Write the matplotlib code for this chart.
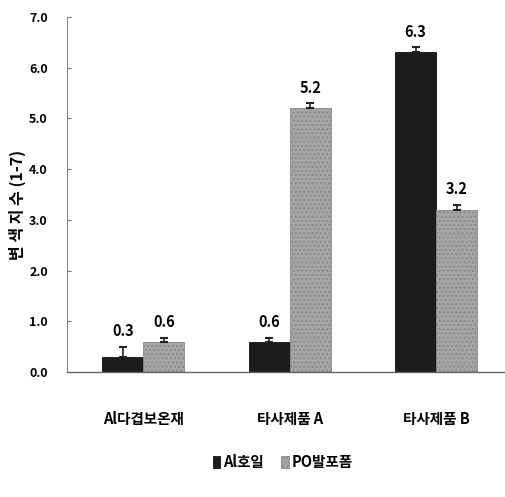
import matplotlib
matplotlib.use("Agg")
import matplotlib.pyplot as plt
import numpy as np

plt.rcParams["font.family"] = ["Noto Sans CJK KR", "DejaVu Sans"]

categories = ["Al다겹보온재", "타사제품 A", "타사제품 B"]
series_names = ["Al호일", "PO발포폼"]
foil_values = [0.3, 0.6, 6.3]
foam_values = [0.6, 5.2, 3.2]
foil_err = [0.2, 0.08, 0.1]
foam_err = [0.08, 0.1, 0.1]
yticks = [0.0, 1.0, 2.0, 3.0, 4.0, 5.0, 6.0, 7.0]

fig = plt.figure(figsize=(5.05, 4.97), dpi=100)
ax = fig.add_axes([0.133, 0.2515, 0.867, 0.7145])

x = np.arange(len(categories))
w = 0.28
err_kw = dict(ecolor="#222222", elinewidth=1.2, capsize=3, capthick=1.5)

b1 = ax.bar(x - w / 2, foil_values, w, color="#1c1c1c", edgecolor="#111111",
            linewidth=0.6, yerr=[np.zeros(3), foil_err], error_kw=err_kw,
            label=series_names[0])
b2 = ax.bar(x + w / 2, foam_values, w, color="#a5a5a5", edgecolor="#8a8a8a",
            linewidth=0.6, hatch="....", yerr=[np.zeros(3), foam_err],
            error_kw=err_kw, label=series_names[1])

for bars, vals, errs in [(b1, foil_values, foil_err), (b2, foam_values, foam_err)]:
    for bar, v, e in zip(bars, vals, errs):
        ax.text(bar.get_x() + bar.get_width() / 2, v + e + 0.15, f"{v:.1f}",
                ha="center", va="bottom", fontsize=10.5, fontweight="bold")

ax.set_xlim(-0.52, 2.47)
ax.set_ylim(0, 7.0)
ax.set_yticks(yticks)
ax.set_yticklabels([f"{t:.1f}" for t in yticks], fontsize=9, fontweight="bold")
ax.set_xticks(x)
ax.set_xticklabels(categories, fontsize=10.5, fontweight="bold")
ax.tick_params(axis="x", length=0, pad=28)
ax.tick_params(axis="y", length=3, direction="in", color="#777777", pad=14)

for s in ["top", "right"]:
    ax.spines[s].set_visible(False)
ax.spines["left"].set_color("#888888")
ax.spines["bottom"].set_color("#666666")
ax.spines["left"].set_linewidth(0.8)
ax.spines["bottom"].set_linewidth(1.0)

ax.set_ylabel("변 색 지 수 (1-7)", fontsize=11.5, fontweight="bold", labelpad=4)
ax.yaxis.set_label_coords(-0.095, 0.47)

fig.legend(handles=[b1, b2], labels=series_names, loc="center",
           bbox_to_anchor=(0.56, 0.07), ncol=2, frameon=False,
           handlelength=0.5, handleheight=0.9,
           handletextpad=0.2, columnspacing=1.2,
           prop={"weight": "bold", "size": 10.5})

fig.savefig("out.png", dpi=100)
